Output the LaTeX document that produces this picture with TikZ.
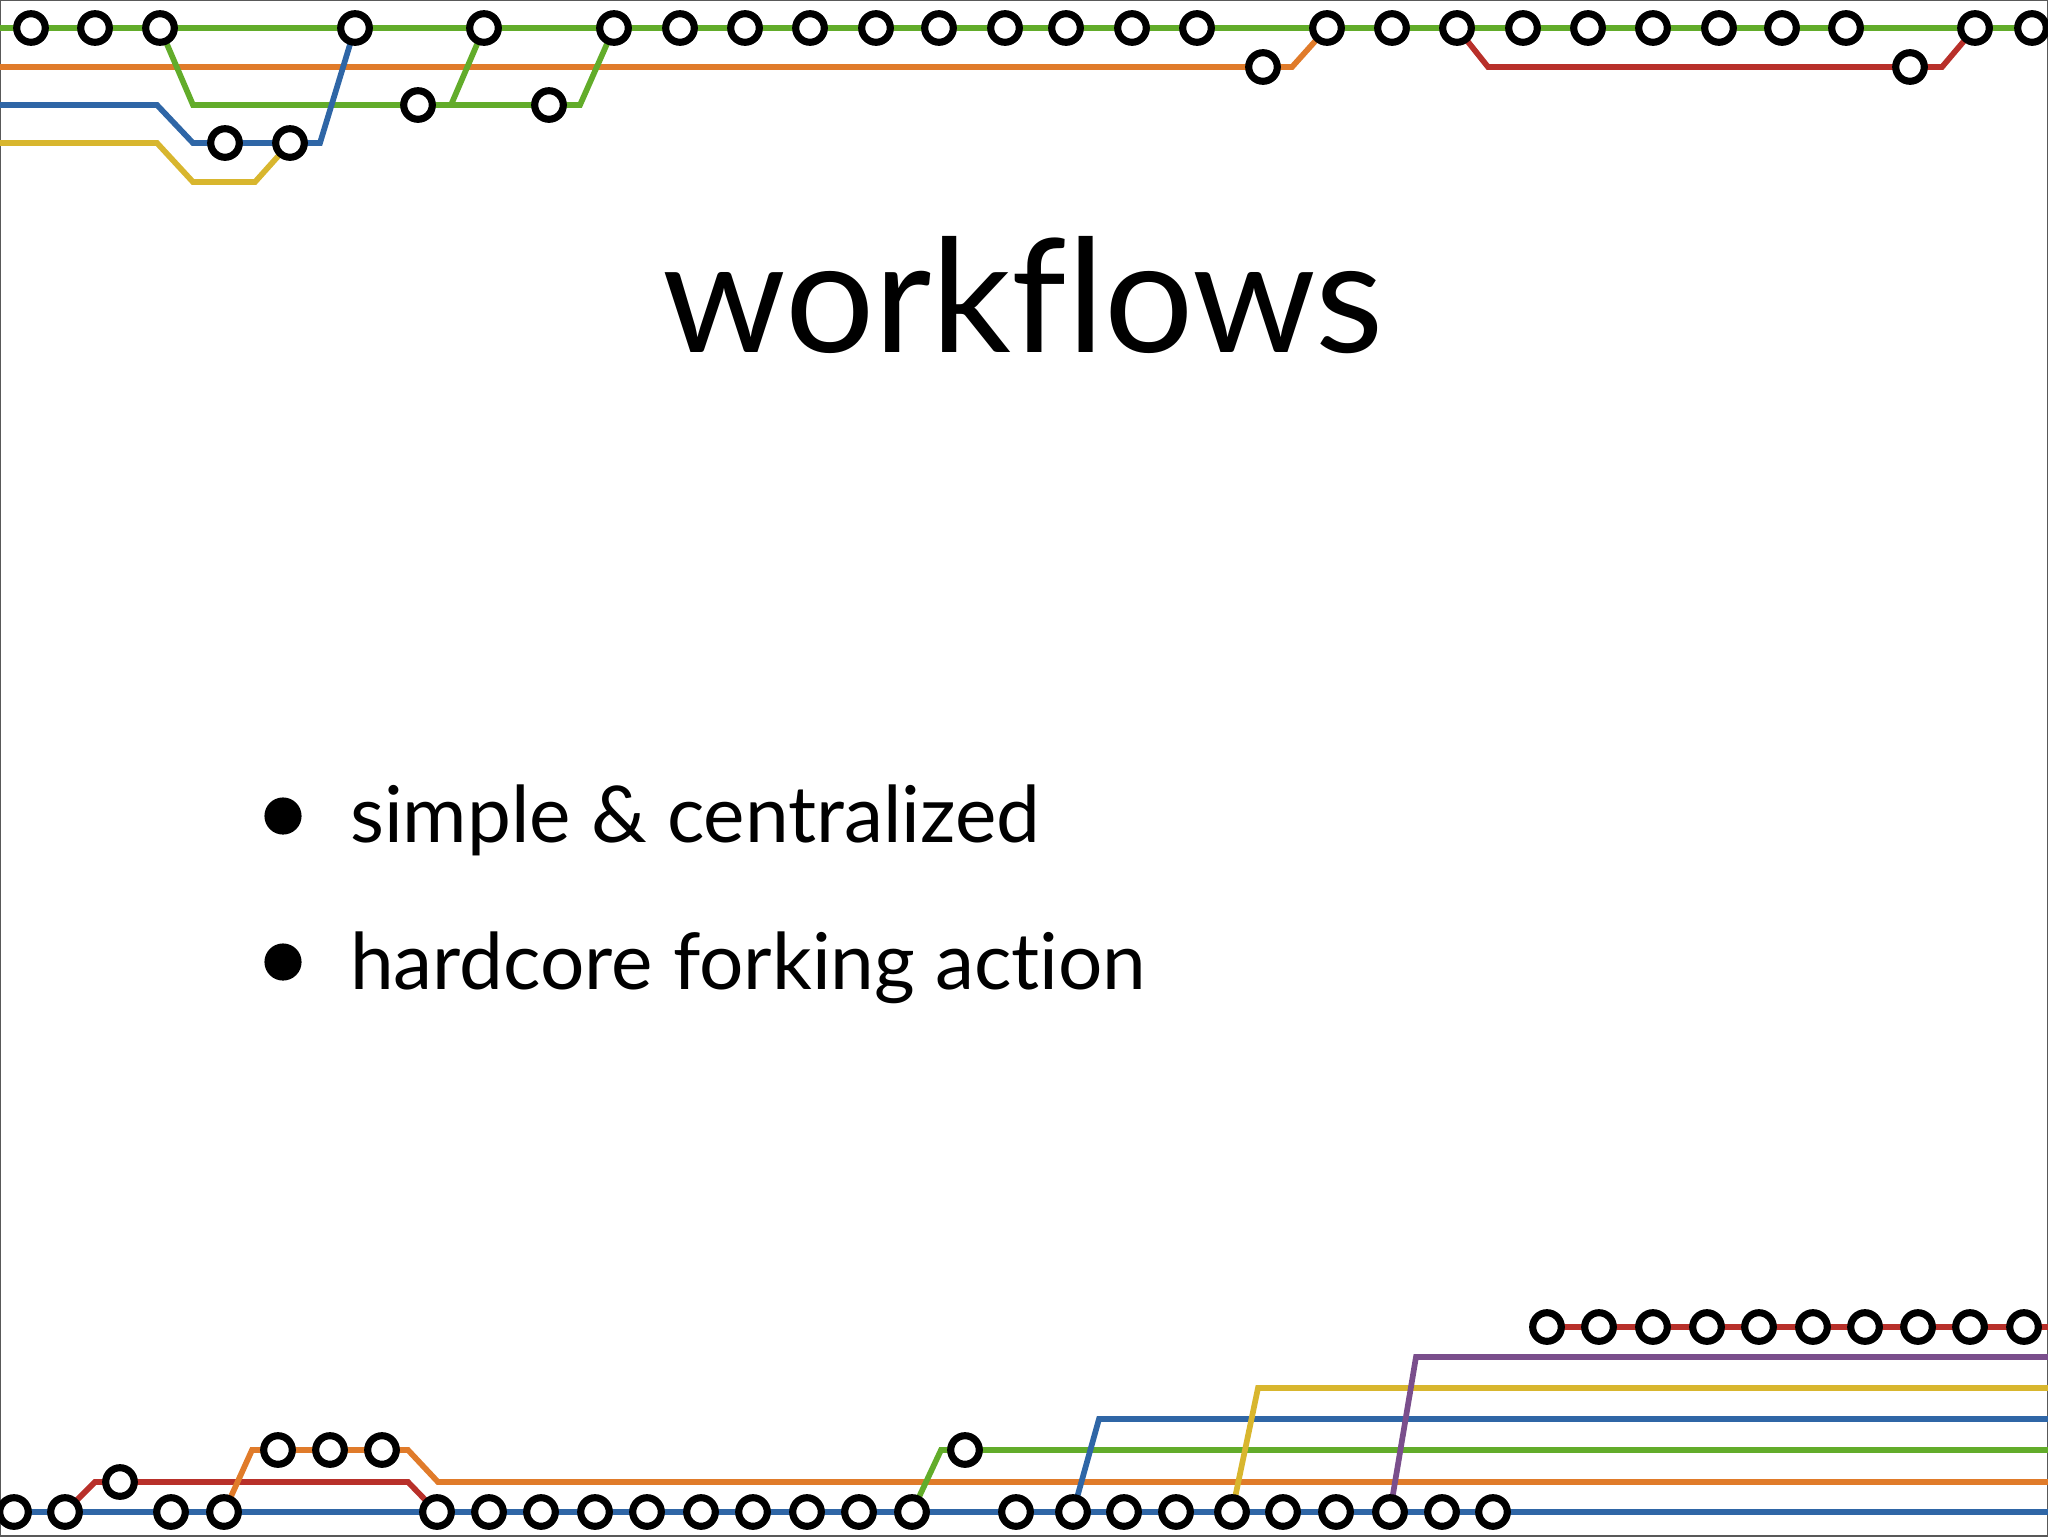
\documentclass[tikz,border=0pt]{standalone}
\usepackage{fontspec}
\setmainfont[Ligatures=NoCommon]{Lato}
\definecolor{cg}{HTML}{62AC2A}
\definecolor{co}{HTML}{E07B2A}
\definecolor{cb}{HTML}{2F66A6}
\definecolor{cy}{HTML}{D8B62E}
\definecolor{cr}{HTML}{B8302A}
\definecolor{cp}{HTML}{7A4E8C}
\begin{document}
\begin{tikzpicture}[x=0.35mm,y=-0.35mm,
  trackline/.style={line width=2.0mm},
  commit/.style={circle,draw=black,fill=white,line width=2.5mm,minimum width=10mm,inner sep=0pt}]
\useasboundingbox (0,0) rectangle (2048,1536);
\draw[gray!70!black,line width=0.6mm] (0,0) rectangle (2048,1536);
% top
\draw[trackline,cg] (0,28) -- (2048,28);
\draw[trackline,co] (0,67) -- (1263,67) -- (1292,67) -- (1327,28);
\draw[trackline,cg] (160,28) -- (193,105) -- (580,105) -- (614,28);
\draw[trackline,cg] (451,105) -- (484,28);
\draw[trackline,cb] (0,105) -- (157,105) -- (193,143) -- (320,143) -- (355,28);
\draw[trackline,cy] (0,143) -- (157,143) -- (193,182) -- (255,182) -- (290,143);
\draw[trackline,cr] (1457,28) -- (1488,67) -- (1942,67) -- (1975,28);
\foreach \x in {31,95,160,355,484,614,680,745,810,876,939,1005,1066,1132,1197,1327,1392,1457,1523,1588,1653,1719,1782,1846,1975,2032}
  \node[commit] at (\x,28) {};
\foreach \p in {(225,143),(290,143),(418,105),(549,105),(1263,67),(1910,67)}
  \node[commit] at \p {};
% bottom
\draw[trackline,cb] (0,1512) -- (2048,1512);
\draw[trackline,cr] (65,1512) -- (95,1482) -- (408,1482) -- (437,1512);
\draw[trackline,co] (224,1512) -- (252,1450) -- (408,1450) -- (438,1482) -- (2048,1482);
\draw[trackline,cg] (912,1512) -- (941,1450) -- (2048,1450);
\draw[trackline,cb] (1073,1512) -- (1099,1419) -- (2048,1419);
\draw[trackline,cy] (1232,1512) -- (1258,1388) -- (2048,1388);
\draw[trackline,cp] (1390,1512) -- (1416,1357) -- (2048,1357);
\draw[trackline,cr] (1547,1327) -- (2048,1327);
\foreach \x in {14,65,171,224,437,489,541,595,647,701,753,807,859,912,1016,1073,1124,1176,1232,1283,1336,1390,1442,1493}
  \node[commit] at (\x,1512) {};
\foreach \x in {1547,1599,1653,1707,1759,1813,1865,1918,1970,2024}
  \node[commit] at (\x,1327) {};
\foreach \p in {(120,1482),(278,1450),(330,1450),(382,1450),(965,1450)}
  \node[commit] at \p {};
% text
\node[anchor=base,inner sep=0pt,font=\fontsize{157}{157}\selectfont] (title) at (1023,352) {workflows};
\fill (283,816) circle (6.5mm);
\fill (283,962) circle (6.5mm);
\node[anchor=base west,inner sep=0pt,font=\fontsize{78}{78}\selectfont] (b1) at (350,842) {simple \& centralized};
\node[anchor=base west,inner sep=0pt,font=\fontsize{78}{78}\selectfont] (b2) at (350,989) {hardcore forking action};
\end{tikzpicture}
\end{document}
